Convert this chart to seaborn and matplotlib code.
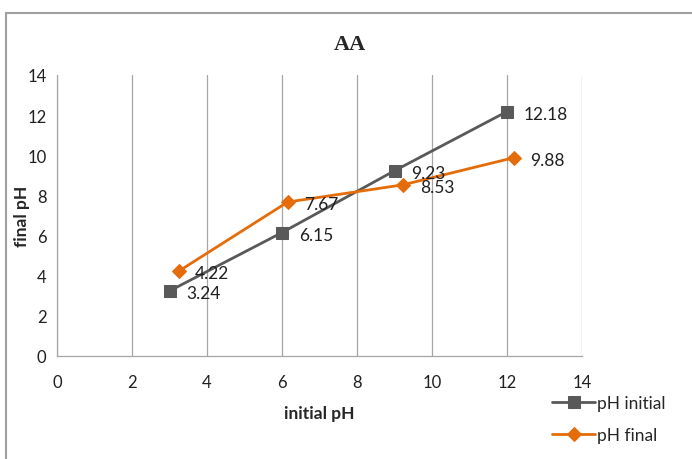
import matplotlib
matplotlib.use("Agg")
import matplotlib.pyplot as plt
import matplotlib.patches as patches
import seaborn as sns
import pandas as pd

# Measured pH values
initial_x = [3, 6, 9, 12]
ph_initial = [3.24, 6.15, 9.23, 12.18]
ph_final = [4.22, 7.67, 8.53, 9.88]
x_ticks = [0, 2, 4, 6, 8, 10, 12, 14]
y_ticks = [0, 2, 4, 6, 8, 10, 12, 14]

sns.set_style("white")
plt.rcParams["font.family"] = ["Lato", "DejaVu Sans"]

gray = "#595959"
orange = "#E46C0A"
axis_gray = "#A6A6A6"

df_init = pd.DataFrame({"x": initial_x, "y": ph_initial})
df_final = pd.DataFrame({"x": ph_initial, "y": ph_final})

fig = plt.figure(figsize=(6.92, 4.60), dpi=100)
ax = fig.add_axes([57 / 692, 1 - 357 / 460, (582 - 57) / 692, (357 - 76) / 460])

sns.lineplot(data=df_init, x="x", y="y", ax=ax, color=gray, lw=2.0,
             marker="s", markersize=9, markeredgecolor=gray,
             label="pH initial", sort=False, zorder=3)
sns.lineplot(data=df_final, x="x", y="y", ax=ax, color=orange, lw=2.0,
             marker="D", markersize=7.5, markeredgecolor=orange,
             label="pH final", sort=False, zorder=3)

for x, y in zip(df_init["x"], df_init["y"]):
    ax.annotate(f"{y:.2f}", (x, y), xytext=(12, -1.5), textcoords="offset points",
                va="center", ha="left", fontsize=12.5, color="#202020", zorder=4)
for x, y in zip(df_final["x"], df_final["y"]):
    ax.annotate(f"{y:.2f}", (x, y), xytext=(12, -1.5), textcoords="offset points",
                va="center", ha="left", fontsize=12.5, color="#202020", zorder=4)

ax.set_xlim(0, 14)
ax.set_ylim(0, 14)
ax.set_xticks(x_ticks)
ax.set_yticks(y_ticks)
ax.tick_params(axis="both", labelsize=12, colors="#202020", length=4,
               direction="out", width=0.8)
ax.tick_params(axis="x", pad=9)
ax.tick_params(axis="both", color=axis_gray)
ax.grid(axis="x", color=axis_gray, lw=0.9)
ax.grid(axis="y", visible=False)
ax.set_axisbelow(True)
for side in ["top", "right"]:
    ax.spines[side].set_visible(False)
for side in ["left", "bottom"]:
    ax.spines[side].set_color(axis_gray)
    ax.spines[side].set_linewidth(0.9)

ax.set_xlabel("initial pH", fontsize=12.5, fontweight="bold")
ax.set_ylabel("final pH", fontsize=12.5, fontweight="bold")
ax.xaxis.set_label_coords(0.5, -0.175)
ax.yaxis.set_label_coords(-0.052, 0.5)

fig.text(350 / 692, 1 - 45 / 460, "AA", ha="center", va="center",
         fontsize=16, fontweight="bold", family="Liberation Serif")

leg = ax.legend(loc="upper left", bbox_to_anchor=(552 / 692, 1 - 396 / 460),
                bbox_transform=fig.transFigure, frameon=False, fontsize=12.5,
                handlelength=2.5, handletextpad=0.1, labelspacing=0.9,
                borderaxespad=0, borderpad=0)

# outer chart frame
fig.patches.append(patches.Rectangle((6 / 692, -0.1), 1.2, 1.1 - 14 / 460,
                                     transform=fig.transFigure, fill=False,
                                     edgecolor="#A0A0A0", lw=1.5, clip_on=False))

fig.savefig("out.png", dpi=100)
